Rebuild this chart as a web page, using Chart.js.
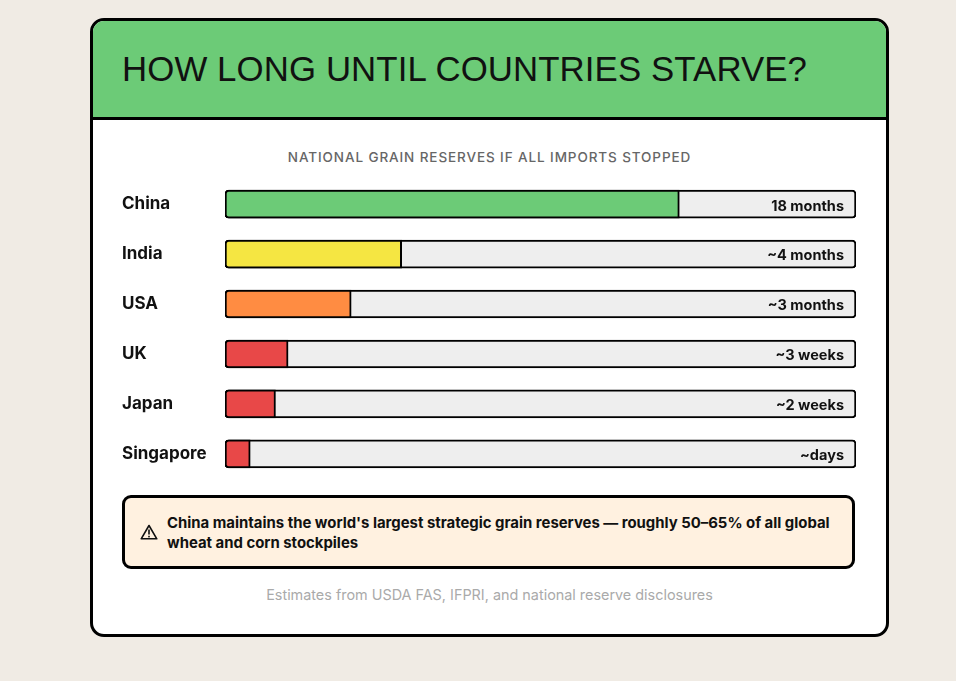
<!DOCTYPE html>
<html>
<head>
<meta charset="utf-8">
<script src="https://cdn.jsdelivr.net/npm/chart.js@4"></script>
<style>
  html, body { margin: 0; padding: 0; }
  body { background: #f0ebe4; width: 956px; height: 681px; position: relative; font-family: Inter, "Noto Sans", sans-serif; }
  .card { position: absolute; left: 90px; top: 18px; width: 793px; height: 613px; background: #fff; border: 3px solid #000; border-radius: 14px; overflow: hidden; }
  .header { height: 96px; background: #6ccb77; border-bottom: 3px solid #000; }
  .header h1 { margin: 0; padding: 28px 0 0 29px; font-family: "Liberation Sans", Arial, sans-serif; font-weight: 400; font-size: 34.8px; letter-spacing: 0.1px; color: #111; }
  .subtitle { position: absolute; top: 128px; left: 0; width: 793px; text-align: center; font-size: 13.5px; font-weight: 500; color: #666; letter-spacing: 0.9px; }
  .chart-wrap { position: absolute; left: 29px; top: 148px; width: 736px; height: 320px; }
  .note { position: absolute; left: 29px; top: 474px; width: 666px; height: 68px; background: #fff1e0; border: 3px solid #000; border-radius: 9px; padding: 0 19px 0 42px; }
  .note .icon { position: absolute; left: 15px; top: 26px; }
  .note p { margin: 15px 0 0 0; font-size: 14.9px; font-weight: 700; line-height: 20px; color: #111; }
  .footer { position: absolute; top: 565px; left: 0; width: 793px; text-align: center; font-size: 14.4px; color: #aaa; }
</style>
</head>
<body>
<div class="card">
  <div class="header"><h1>HOW LONG UNTIL COUNTRIES STARVE?</h1></div>
  <div class="subtitle">NATIONAL GRAIN RESERVES IF ALL IMPORTS STOPPED</div>
  <div class="chart-wrap"><canvas id="chart"></canvas></div>
  <div class="note">
    <svg class="icon" width="18" height="16" viewBox="0 0 18 16"><path d="M9 1.5 L16.8 14.8 H1.2 Z" fill="none" stroke="#111" stroke-width="1.6" stroke-linejoin="round"/><rect x="8.2" y="5.5" width="1.6" height="5" fill="#111"/><rect x="8.2" y="11.8" width="1.6" height="1.6" fill="#111"/></svg>
    <p>China maintains the world's largest strategic grain reserves — roughly 50–65% of all global wheat and corn stockpiles</p>
  </div>
  <div class="footer">Estimates from USDA FAS, IFPRI, and national reserve disclosures</div>
</div>
<script>
// rows, top to bottom
const countries = ['China', 'India', 'USA', 'UK', 'Japan', 'Singapore'];
// share of the track that is filled (percent)
const reserveShare = [72, 28, 20, 10, 8, 4];
const reserveLabels = ['18 months', '~4 months', '~3 months', '~3 weeks', '~2 weeks', '~days'];
const barColors = ['#6ccb77', '#f5e642', '#ff8c42', '#e84848', '#e84848', '#e84848'];
const trackValue = countries.map(() => 100);

// writes the duration text at the right end of each track
const valueLabels = {
  id: 'valueLabels',
  afterDatasetsDraw(chart) {
    const { ctx, scales } = chart;
    const right = scales.x.getPixelForValue(100) - 12;
    ctx.save();
    ctx.font = '700 14.5px Inter, "Noto Sans", sans-serif';
    ctx.fillStyle = '#111';
    ctx.textAlign = 'right';
    ctx.textBaseline = 'middle';
    reserveLabels.forEach((txt, i) => {
      ctx.fillText(txt, right, scales.y.getPixelForValue(i) + 2);
    });
    ctx.restore();
  }
};

new Chart(document.getElementById('chart'), {
  type: 'bar',
  data: {
    labels: countries,
    datasets: [
      {
        label: 'Reserve',
        data: reserveShare,
        backgroundColor: barColors,
        borderColor: '#000',
        borderWidth: 2,
        borderSkipped: false,
        borderRadius: { topLeft: 4, bottomLeft: 4, topRight: 0, bottomRight: 0 },
        barThickness: 28,
        grouped: false
      },
      {
        label: 'Track',
        data: trackValue,
        backgroundColor: '#eeeeee',
        borderColor: '#000',
        borderWidth: 2,
        borderSkipped: false,
        borderRadius: 4,
        barThickness: 28,
        grouped: false
      }
    ]
  },
  options: {
    indexAxis: 'y',
    responsive: true,
    maintainAspectRatio: false,
    animation: false,
    layout: { padding: { right: 2, left: 0, top: 0, bottom: 0 } },
    plugins: { legend: { display: false }, tooltip: { enabled: false } },
    scales: {
      x: { display: false, min: 0, max: 100 },
      y: {
        grid: { display: false },
        border: { display: false },
        afterFit(scale) { scale.width = 103; },
        ticks: {
          crossAlign: 'far',
          color: '#111',
          padding: 0,
          font: { family: 'Inter, "Noto Sans", sans-serif', size: 17, weight: '700' }
        }
      }
    }
  },
  plugins: [valueLabels]
});
</script>
</body>
</html>
